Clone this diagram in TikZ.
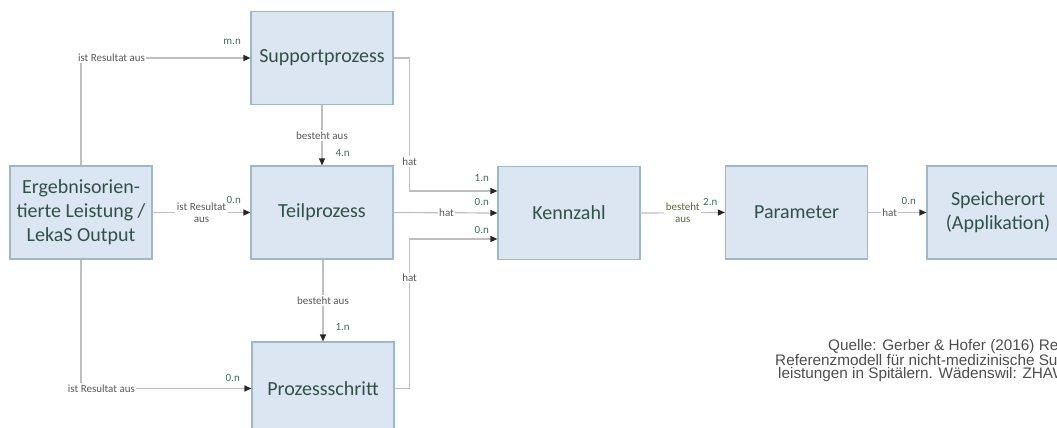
\documentclass[tikz,border=0pt]{standalone}
\usepackage{fontspec}
\setmainfont{Carlito}
\newfontfamily\srcfont{Liberation Sans}
\usetikzlibrary{arrows.meta,positioning}

\definecolor{boxfill}{HTML}{DCE6F2}
\definecolor{boxline}{HTML}{9DB8C9}
\definecolor{boxtext}{HTML}{2F5147}
\definecolor{connline}{HTML}{BFBFBF}
\definecolor{tipcol}{HTML}{262626}
\definecolor{lbltext}{HTML}{595959}
\definecolor{cardcol}{HTML}{3B6E5E}
\definecolor{olivetext}{HTML}{5A6E2F}
\definecolor{srctext}{HTML}{4D4D4D}

\begin{document}
\begin{tikzpicture}[x=1pt,y=-1pt,
  box/.style={draw=boxline, line width=1.2pt, fill=boxfill, minimum width=142pt,
    minimum height=93pt, inner sep=2pt, text=boxtext, align=center,
    font=\fontsize{20}{24}\selectfont},
  conn/.style={draw=connline, line width=1.2pt,
    -{Triangle[length=7pt,width=6pt,color=tipcol]}},
  lbl/.style={fill=white, inner sep=1.5pt, text=lbltext, align=center,
    font=\fontsize{11}{12.5}\selectfont},
  card/.style={inner sep=0pt, text=cardcol, font=\fontsize{11}{13}\selectfont},
  src/.style={inner sep=0pt, text=srctext, align=left,
    font=\srcfont\fontsize{15.3}{12.5}\selectfont}]

\useasboundingbox (0,0) rectangle (1057,428);
\clip (0,0) rectangle (1057,428);

% entities
\node[box] (sup) at (322,58) {Supportprozess};
\node[box] (teil) at (322,212.5) {Teilprozess};
\node[box] (erg) at (81,212.5) {Ergebnisorien-\\tierte Leistung /\\LekaS Output};
\node[box] (pro) at (323,388.5) {Prozessschritt};
\node[box] (kz) at (569,213) {Kennzahl};
\node[box] (par) at (796.5,212.5) {Parameter};
\node[box] (spo) at (998,212.5) {Speicherort\\(Applikation)};

% relations
\draw[conn] (erg.north) |- node[lbl, pos=0.59] {ist Resultat aus}
  node[card, pos=1, above left=13pt and 9pt] {m.n} (sup.west);
\draw[conn] (erg.east) -- node[lbl] {ist Resultat\\aus}
  node[card, pos=1, above left=8pt and 9pt] {0.n} (teil.west);
\draw[conn] (erg.south) |- node[lbl, pos=0.56] {ist Resultat aus}
  node[card, pos=1, above left=6pt and 11pt] {0.n} (pro.west);

\draw[conn] (sup.south) -- node[lbl] {besteht aus}
  node[card, pos=1, above right=8pt and 13pt] {4.n} (teil.north);
\draw[conn] ([xshift=1pt]teil.south) -- node[lbl] {besteht aus}
  node[card, pos=1, above right=10pt and 12pt] {1.n} (pro.north);

\draw[conn] (sup.east) -- ++(16,0) |- node[lbl, pos=0.39] {hat}
  node[card, pos=1, above left=9pt and 8pt] {1.n} ([yshift=22pt]kz.west);
\draw[conn] (teil.east) -- node[lbl, pos=0.51] {hat}
  node[card, pos=1, above left=7pt and 8pt] {0.n} (kz.west);
\draw[conn] (pro.east) -- ++(15,0) |- node[lbl, pos=0.37] {hat}
  node[card, pos=1, above left=5pt and 8pt] {0.n} ([yshift=-26pt]kz.west);

\draw[conn] (kz.east) -- node[lbl, text=olivetext] {besteht\\aus}
  node[card, pos=1, above left=6pt and 7pt] {2.n} (par.west);
\draw[conn] (par.east) -- node[lbl, pos=0.37] {hat}
  node[card, pos=1, above left=7pt and 10pt] {0.n} (spo.west);

% source
\node[src, anchor=north west] (quelle) at (775,339)
  {\hspace*{53pt}Quelle: Gerber \& Hofer (2016) Re\\
   Referenzmodell für nicht-medizinische Su\\
   \hspace*{3pt}leistungen in Spitälern. Wädenswil: ZHAW};
\end{tikzpicture}
\end{document}
